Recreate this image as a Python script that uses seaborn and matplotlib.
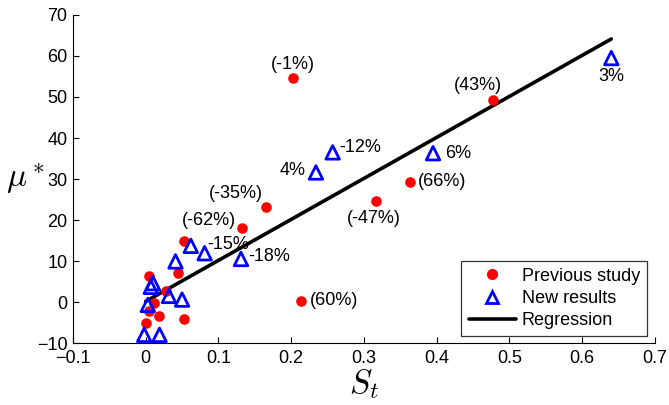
import numpy as np
import pandas as pd
import seaborn as sns
import matplotlib
import matplotlib.pyplot as plt
from matplotlib.lines import Line2D
matplotlib.use('Agg')

# previous study (red dots)
prev_st = [0.202, 0.477, 0.364, 0.316, 0.166, 0.133, 0.214, 0.053, 0.044,
           0.005, 0.028, 0.012, 0.005, 0.019, 0.000, 0.052]
prev_mu = [54.7, 49.3, 29.3, 24.6, 23.1, 18.0, 0.3, 15.0, 7.1,
           6.4, 2.6, -0.3, -2.3, -3.5, -5.0, -4.1]
prev_labels = ['(-1%)', '(43%)', '(66%)', '(-47%)', '(-35%)', '(-62%)', '(60%)']

# new results (blue triangles)
new_st = [0.640, 0.395, 0.257, 0.234, 0.062, 0.131, 0.081, 0.041, 0.010,
          0.007, 0.032, 0.050, 0.003, -0.002, 0.019]
new_mu = [59.5, 36.3, 36.5, 31.6, 13.7, 10.5, 11.9, 9.9, 4.6,
          3.7, 1.5, 0.6, -0.7, -8.0, -8.0]
new_labels = ['3%', '6%', '-12%', '4%', '-15%', '-18%']

# regression line
reg_intercept = 0.15
reg_slope = 100.0
reg_range = [0.0, 0.64]

x_ticks = [-0.1, 0, 0.1, 0.2, 0.3, 0.4, 0.5, 0.6, 0.7]
y_ticks = [-10, 0, 10, 20, 30, 40, 50, 60, 70]


def main():
    sns.set_style('ticks')
    plt.rcParams['font.family'] = ['Liberation Sans', 'DejaVu Sans']
    plt.rcParams['mathtext.fontset'] = 'cm'
    plt.rcParams['text.color'] = 'black'
    plt.rcParams['axes.labelcolor'] = 'black'

    fig = plt.figure(figsize=(6.69, 4.05), dpi=100)
    ax = fig.add_axes([0.109, 0.153, 0.870, 0.810])

    prev = pd.DataFrame({'st': prev_st, 'mu': prev_mu})
    new = pd.DataFrame({'st': new_st, 'mu': new_mu})
    reg = pd.DataFrame({'st': reg_range})
    reg['mu'] = reg_intercept + reg_slope * reg['st']

    sns.scatterplot(data=prev, x='st', y='mu', ax=ax, color='red', s=58,
                    linewidth=0, zorder=3)
    sns.scatterplot(data=new, x='st', y='mu', ax=ax, marker='^', s=95,
                    facecolor='none', edgecolor='blue', linewidth=2, zorder=4)
    sns.lineplot(data=reg, x='st', y='mu', ax=ax, color='black', linewidth=2.6,
                 zorder=2)

    fs = 13
    # offsets in pixels: (dx, dy, ha)
    prev_off = [(0, 13, 'center'), (-15, 14, 'center'), (7, 0, 'left'),
                (-2, -17, 'center'), (-31, 14, 'center'), (-33, 8, 'center'),
                (9, 0, 'left')]
    for i, txt in enumerate(prev_labels):
        dx, dy, ha = prev_off[i]
        ax.annotate(txt, (prev_st[i], prev_mu[i]), xytext=(dx, dy),
                    textcoords='offset pixels', ha=ha, va='center', fontsize=fs)
    new_off = [(0, -18, 'center'), (12, 0, 'left'), (7, 5, 'left'),
               (-10, 2, 'right'), (16, 1, 'left'), (7, 2, 'left')]
    for i, txt in enumerate(new_labels):
        dx, dy, ha = new_off[i]
        ax.annotate(txt, (new_st[i], new_mu[i]), xytext=(dx, dy),
                    textcoords='offset pixels', ha=ha, va='center', fontsize=fs)

    ax.set_xlim(-0.1, 0.7)
    ax.set_ylim(-10, 70)
    ax.set_xticks(x_ticks)
    ax.set_xticklabels([f'{t:g}'.replace('-', '\u2212') for t in x_ticks])
    ax.set_yticks(y_ticks)
    ax.tick_params(direction='in', length=4, width=0.8, labelsize=fs,
                   colors='black', pad=4)
    ax.tick_params(axis='x', pad=5)
    sns.despine(ax=ax)
    for sp in ['left', 'bottom']:
        ax.spines[sp].set_linewidth(0.8)
        ax.spines[sp].set_color('black')

    ax.set_xlabel(r'$S_t$', fontsize=24, labelpad=0)
    ax.set_ylabel(r'$\mu^*$', fontsize=24, rotation=0, labelpad=8, va='center')

    handles = [
        Line2D([], [], marker='o', color='red', linestyle='none', markersize=7),
        Line2D([], [], marker='^', markerfacecolor='none', markeredgecolor='blue',
               markeredgewidth=2, linestyle='none', markersize=9),
        Line2D([], [], color='black', linewidth=2.6),
    ]
    leg = ax.legend(handles, ['Previous study', 'New results', 'Regression'],
                    loc='lower right', bbox_to_anchor=(0.987, 0.021),
                    borderaxespad=0, fontsize=fs, frameon=True, fancybox=False,
                    handlelength=2.6, labelspacing=0.28, borderpad=0.4,
                    handletextpad=0.35)
    leg.get_frame().set_edgecolor('black')
    leg.get_frame().set_linewidth(0.9)

    plt.savefig('out.png', dpi=100)


if __name__ == '__main__':
    main()
